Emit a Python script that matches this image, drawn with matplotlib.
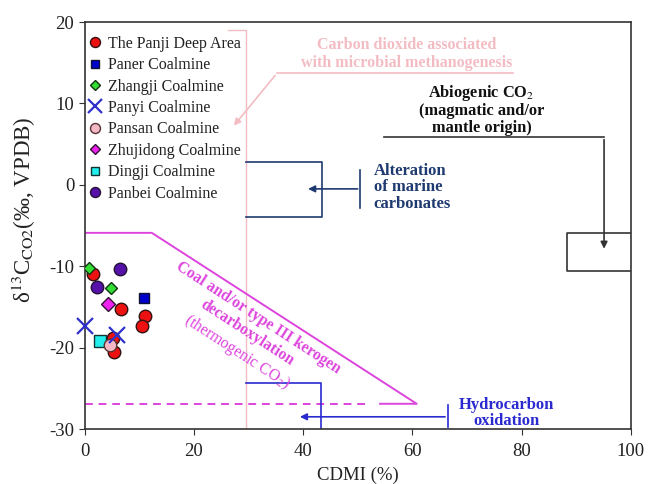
import numpy as np
import matplotlib
matplotlib.use("Agg")
import matplotlib.pyplot as plt

plt.rcParams['font.family'] = ['Liberation Serif', 'DejaVu Serif']
plt.rcParams['mathtext.fontset'] = 'stix'
plt.rcParams['axes.unicode_minus'] = False

# CDMI (%) and d13C-CO2 (permil) per coal mine
panji_x = [1.6, 6.7, 11.0, 10.5, 5.2, 5.4]
panji_y = [-10.9, -15.3, -16.1, -17.3, -18.8, -20.5]
paner_x = [10.8]
paner_y = [-13.9]
zhangji_x = [0.8, 4.8]
zhangji_y = [-10.2, -12.7]
panyi_x = [0.15, 6.0]
panyi_y = [-17.4, -18.4]
pansan_x = [4.6]
pansan_y = [-19.7]
zhujidong_x = [4.2]
zhujidong_y = [-14.6]
dingji_x = [2.8]
dingji_y = [-19.2]
panbei_x = [6.4, 2.2]
panbei_y = [-10.4, -12.6]

fig = plt.figure(figsize=(6.51, 4.84), dpi=100)
ax = fig.add_axes([0.130, 0.1136, 0.839, 0.8409])

pink = '#f3bcc3'
navy = '#1f3a70'
blue = '#2a2ad0'
mag = '#dd44dd'

# microbial methanogenesis field
ax.plot([26.3, 29.5, 29.5], [19.0, 19.0, -30], color=pink, lw=1.0, zorder=1)
ax.plot([78.5, 35.2], [13.7, 13.7], color=pink, lw=1.2)
ax.annotate('', xy=(27.0, 7.0), xytext=(35.2, 13.7),
            arrowprops=dict(arrowstyle='-|>', color=pink, lw=1.2, mutation_scale=10))
ax.text(59.0, 16.1, 'Carbon dioxide associated\nwith microbial methanogenesis',
        color=pink, fontsize=11.5, fontweight='bold', ha='center', va='center', linespacing=1.15)

# marine carbonates
ax.plot([29.5, 43.4, 43.4, 29.5], [2.8, 2.8, -4.0, -4.0], color=navy, lw=1.2)
ax.plot([50.5, 50.5], [1.8, -2.9], color=navy, lw=1.2)
ax.annotate('', xy=(40.4, -0.5), xytext=(50.5, -0.5),
            arrowprops=dict(arrowstyle='-|>', color=navy, lw=1.2, mutation_scale=10))
ax.text(52.9, -0.3, 'Alteration\nof marine\ncarbonates', color=navy, fontsize=12,
        fontweight='bold', ha='left', va='center', linespacing=1.05)

# abiogenic CO2
ax.plot([54.9, 95.1], [5.9, 5.9], color='#333333', lw=1.2)
ax.annotate('', xy=(95.1, -8.2), xytext=(95.1, 5.9),
            arrowprops=dict(arrowstyle='-|>', color='#333333', lw=1.2, mutation_scale=10))
ax.plot([100, 88.3, 88.3, 100], [-5.9, -5.9, -10.6, -10.6], color='#333333', lw=1.2)
ax.text(72.7, 9.3, 'Abiogenic CO$_2$\n(magmatic and/or\nmantle origin)', color='#111111',
        fontsize=11.8, fontweight='bold', ha='center', va='center', linespacing=1.05)

# thermogenic field
ax.plot([0, 12.3, 60.8, 54.1], [-5.9, -5.9, -26.9, -26.9], color=mag, lw=1.4)
ax.plot([0, 52.3], [-26.9, -26.9], color=mag, lw=1.4, ls=(0, (4, 3)))
ax.text(31.7, -16.3, 'Coal and/or type III kerogen', color=mag, fontsize=11.3,
        fontweight='bold', rotation=-33, rotation_mode='anchor', ha='center', va='center')
ax.text(29.7, -18.2, 'decarboxylation', color=mag, fontsize=11.3,
        fontweight='bold', rotation=-33, rotation_mode='anchor', ha='center', va='center')
ax.text(27.9, -20.5, '(thermogenic CO$_2$)', color=mag, fontsize=11.3,
        rotation=-33, rotation_mode='anchor', ha='center', va='center')

# hydrocarbon oxidation
ax.plot([29.5, 43.3, 43.3], [-24.4, -24.4, -30], color=blue, lw=1.2)
ax.plot([66.5, 66.5], [-27.0, -29.7], color=blue, lw=1.2)
ax.annotate('', xy=(38.9, -28.5), xytext=(66.5, -28.5),
            arrowprops=dict(arrowstyle='-|>', color=blue, lw=1.2, mutation_scale=10))
ax.text(77.2, -28.0, 'Hydrocarbon\noxidation', color=blue, fontsize=12,
        fontweight='bold', ha='center', va='center', linespacing=1.0)

ms = 9
ax.plot(panji_x, panji_y, 'o', color='#ee1111', mec='#331111', ms=ms, label='The Panji Deep Area', zorder=5)
ax.plot(paner_x, paner_y, 's', color='#0000cc', mec='#111133', ms=7, label='Paner Coalmine', zorder=5)
ax.plot(zhangji_x, zhangji_y, 'D', color='#33dd33', mec='#113311', ms=6.5, label='Zhangji Coalmine', zorder=6)
ax.plot(panyi_x, panyi_y, 'x', color='#3030cc', ms=12, mew=1.6, label='Panyi Coalmine', zorder=7, clip_on=False)
ax.plot(pansan_x, pansan_y, 'o', color='#f4b8c4', mec='#553333', ms=ms, label='Pansan Coalmine', zorder=6)
ax.plot(zhujidong_x, zhujidong_y, 'D', color='#ee22ee', mec='#331133', ms=7, label='Zhujidong Coalmine', zorder=5)
ax.plot(dingji_x, dingji_y, 's', color='#22eeee', mec='#113333', ms=8, label='Dingji Coalmine', zorder=5)
ax.plot(panbei_x, panbei_y, 'o', color='#5511aa', mec='#221133', ms=ms, label='Panbei Coalmine', zorder=5)

leg = ax.legend(loc='upper left', bbox_to_anchor=(-0.007, 0.982), frameon=False,
                fontsize=11.5, borderaxespad=0, handletextpad=0.3, labelspacing=0.34,
                handlelength=1.0, markerscale=0.8)
for t in leg.get_texts():
    t.set_color('#222222')

ax.set_xlim(0, 100)
ax.set_ylim(-30, 20)
ax.set_xticks(np.arange(0, 101, 20))
ax.set_yticks(np.arange(-30, 21, 10))
ax.tick_params(direction='out', length=4, color='#333333', labelcolor='#222222', labelsize=13.5)
ax.tick_params(axis='x', pad=6)
for s in ax.spines.values():
    s.set_color('#333333')
    s.set_linewidth(1.2)
ax.set_xlabel('CDMI (%)', fontsize=13.5, color='#222222', labelpad=5)
ax.set_ylabel('δ$^{13}$C$_{\\mathrm{CO2}}$(‰, VPDB)', fontsize=16.5, color='#222222')
ax.yaxis.set_label_coords(-0.085, 0.538)

fig.savefig('out.png', dpi=100)
